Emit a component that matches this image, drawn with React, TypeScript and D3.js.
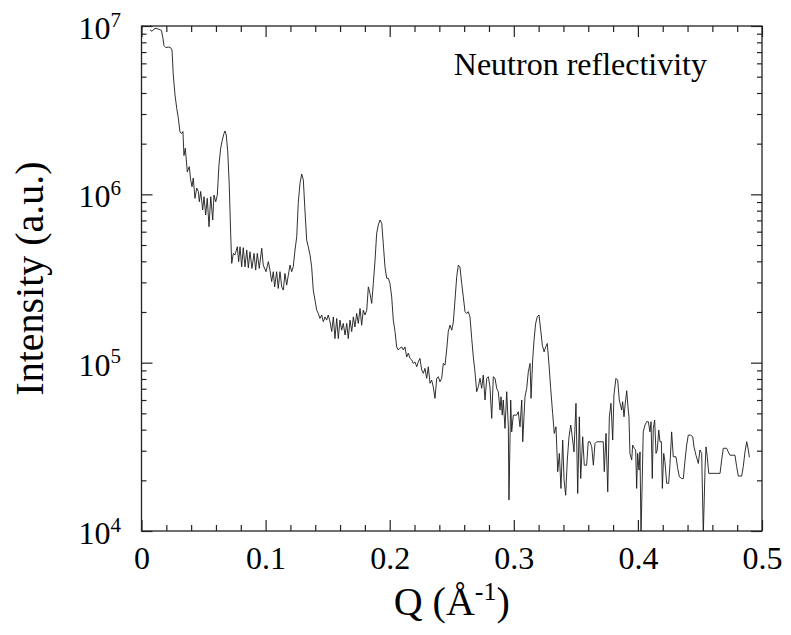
import React, { useRef, useEffect } from "react";
import * as d3 from "d3";

// [Q (1/Å), intensity (a.u.)]
const reflectivity: [number, number][] = [
  [0.0068, 9.5e6], [0.0085, 9.3e6], [0.0101, 9.6e6], [0.0117, 9.7e6], [0.0133, 9.6e6],
  [0.0149, 9.5e6], [0.0161, 9.4e6], [0.0173, 8.45e6], [0.0181, 7.64e6], [0.0197, 7.43e6],
  [0.0216, 7.5e6], [0.0235, 7.43e6], [0.0246, 7.2e6], [0.0256, 5.12e6], [0.027, 3.89e6],
  [0.0284, 3.24e6], [0.0297, 2.83e6], [0.031, 2.34e6], [0.0324, 2.3e6], [0.0334, 2.36e6],
  [0.0342, 1.7e6], [0.0353, 1.88e6], [0.0369, 1.36e6], [0.0385, 1.46e6], [0.0396, 1.22e6],
  [0.0407, 1.11e6], [0.0417, 1.25e6], [0.0431, 9.47e5], [0.0445, 1.09e6], [0.0458, 1.04e6],
  [0.0466, 9.04e5], [0.0477, 1.04e6], [0.0493, 8.07e5], [0.0504, 9.68e5], [0.0517, 7.54e5],
  [0.053, 9.47e5], [0.0544, 6.42e5], [0.0558, 9.68e5], [0.0574, 7.04e5], [0.0584, 9.9e5],
  [0.0598, 9.04e5], [0.0611, 9.9e5], [0.0624, 1.49e6], [0.0638, 1.88e6], [0.0651, 2.1e6],
  [0.0665, 2.3e6], [0.0673, 2.38e6], [0.0683, 2.25e6], [0.0695, 1.79e6], [0.0707, 1.14e6],
  [0.0719, 5.73e5], [0.0727, 3.89e5], [0.074, 4.46e5], [0.0753, 4.36e5], [0.0772, 4.88e5],
  [0.0783, 3.98e5], [0.0794, 4.88e5], [0.0807, 3.71e5], [0.082, 4.82e5], [0.0834, 3.71e5],
  [0.0848, 4.67e5], [0.0861, 3.66e5], [0.0874, 4.56e5], [0.089, 3.63e5], [0.0907, 4.46e5],
  [0.092, 3.55e5], [0.0933, 4.46e5], [0.0949, 3.63e5], [0.0969, 4.78e5], [0.0981, 3.8e5],
  [0.1003, 3.47e5], [0.1022, 3.98e5], [0.1035, 3.55e5], [0.1049, 3.03e5], [0.1062, 3.47e5],
  [0.1073, 2.82e5], [0.1089, 3.47e5], [0.1102, 2.76e5], [0.1116, 3.47e5], [0.113, 2.82e5],
  [0.1143, 2.7e5], [0.1156, 3.39e5], [0.117, 2.89e5], [0.1183, 3.31e5], [0.1197, 3.8e5],
  [0.121, 3.47e5], [0.1223, 3.71e5], [0.1237, 4.67e5], [0.1251, 5.6e5], [0.1263, 8.84e5],
  [0.1277, 1.16e6], [0.1291, 1.32e6], [0.1304, 1.22e6], [0.1317, 8.07e5], [0.1331, 5.35e5],
  [0.1344, 4.88e5], [0.1358, 4.36e5], [0.1371, 3.71e5], [0.1384, 2.7e5], [0.1398, 2.35e5],
  [0.1412, 2.05e5], [0.1425, 1.96e5], [0.1438, 1.83e5], [0.1452, 1.92e5], [0.1465, 1.75e5],
  [0.1479, 1.87e5], [0.1492, 1.79e5], [0.1505, 1.92e5], [0.1519, 1.75e5], [0.1533, 1.53e5],
  [0.1546, 1.87e5], [0.1559, 1.39e5], [0.1573, 1.83e5], [0.1586, 1.39e5], [0.1599, 1.79e5],
  [0.1613, 1.56e5], [0.1626, 1.71e5], [0.164, 1.46e5], [0.1654, 1.71e5], [0.1666, 1.39e5],
  [0.168, 1.79e5], [0.1694, 1.53e5], [0.1707, 1.87e5], [0.172, 1.63e5], [0.1734, 1.96e5],
  [0.1747, 1.71e5], [0.1761, 2.1e5], [0.1774, 1.67e5], [0.1787, 2.05e5], [0.1801, 1.92e5],
  [0.1815, 2.05e5], [0.1828, 2.82e5], [0.1841, 2.58e5], [0.1855, 2.25e5], [0.1868, 2.96e5],
  [0.1882, 4.07e5], [0.1895, 5.87e5], [0.1908, 6.57e5], [0.1922, 7.04e5], [0.1936, 6.72e5],
  [0.1948, 5.12e5], [0.1962, 3.71e5], [0.1976, 3.17e5], [0.1989, 3.17e5], [0.2002, 2.96e5],
  [0.2016, 2.46e5], [0.2029, 1.79e5], [0.2043, 1.53e5], [0.2056, 1.24e5], [0.2069, 1.19e5],
  [0.2083, 1.22e5], [0.2097, 1.24e5], [0.211, 1.19e5], [0.2123, 1.24e5], [0.2137, 1.08e5],
  [0.215, 1.14e5], [0.2164, 1.06e5], [0.2177, 1.04e5], [0.219, 9.9e4], [0.2204, 1.01e5],
  [0.2218, 9.45e4], [0.223, 1.01e5], [0.2244, 1.06e5], [0.2258, 9.04e4], [0.2271, 8.64e4],
  [0.2284, 9.25e4], [0.2298, 8.07e4], [0.2311, 9.45e4], [0.2325, 7.54e4], [0.2338, 7.88e4],
  [0.2351, 7.19e4], [0.2365, 6.14e4], [0.2379, 8.07e4], [0.2392, 8.25e4], [0.2405, 7.7e4],
  [0.2419, 8.07e4], [0.2432, 9.9e4], [0.2446, 9.67e4], [0.2459, 1.19e5], [0.2472, 1.53e5],
  [0.2486, 1.67e5], [0.25, 1.56e5], [0.2513, 1.75e5], [0.2526, 2.35e5], [0.254, 3.24e5],
  [0.2553, 3.8e5], [0.2566, 3.71e5], [0.258, 2.96e5], [0.2593, 2.46e5], [0.2607, 2.01e5],
  [0.262, 1.96e5], [0.2633, 2.01e5], [0.2647, 1.87e5], [0.2661, 1.39e5], [0.2674, 1.08e5],
  [0.2687, 8.83e4], [0.2701, 6.72e4], [0.2714, 7.19e4], [0.2728, 8.07e4], [0.2741, 7.04e4],
  [0.2754, 8.44e4], [0.2768, 6.0e4], [0.2782, 8.07e4], [0.2795, 8.25e4], [0.2808, 7.16e4],
  [0.2822, 4.67e4], [0.2835, 8.25e4], [0.2849, 8.07e4], [0.2862, 7.04e4], [0.2875, 6.72e4],
  [0.2889, 5.23e4], [0.2897, 6.27e4], [0.2907, 4.88e4], [0.2915, 6.0e4], [0.2929, 4.07e4],
  [0.2943, 6.72e4], [0.2956, 4.16e4], [0.2961, 1.53e4], [0.2975, 6.0e4], [0.2983, 3.88e4],
  [0.2996, 4.88e4], [0.3023, 4.88e4], [0.3036, 5.11e4], [0.305, 4.16e4], [0.3064, 6.0e4],
  [0.3072, 3.39e4], [0.309, 6.27e4], [0.3104, 7.04e4], [0.3117, 8.83e4], [0.3131, 9.9e4],
  [0.3139, 6.14e4], [0.3152, 1.04e5], [0.3163, 1.36e5], [0.3176, 1.71e5], [0.3189, 1.87e5],
  [0.3203, 1.92e5], [0.3217, 1.56e5], [0.323, 1.27e5], [0.3244, 1.16e5], [0.3257, 1.24e5],
  [0.327, 1.3e5], [0.3284, 9.67e4], [0.3297, 7.04e4], [0.3313, 5.0e4], [0.3326, 3.8e4],
  [0.334, 4.16e4], [0.3354, 2.25e4], [0.3367, 2.89e4], [0.338, 1.79e4], [0.3394, 3.47e4],
  [0.3405, 2.01e4], [0.3418, 1.63e4], [0.3431, 2.64e4], [0.3445, 3.63e4], [0.3459, 4.26e4],
  [0.3471, 3.63e4], [0.3485, 2.95e4], [0.3501, 5.73e4], [0.3515, 1.67e4], [0.3528, 4.77e4],
  [0.3539, 2.05e4], [0.3555, 3.63e4], [0.3568, 2.46e4], [0.3587, 2.46e4], [0.36, 3.39e4],
  [0.3614, 3.39e4], [0.3628, 3.16e4], [0.3641, 2.46e4], [0.3654, 3.31e4], [0.3668, 3.39e4],
  [0.3721, 3.39e4], [0.3729, 2.25e4], [0.3743, 3.8e4], [0.3757, 1.71e4], [0.377, 4.77e4],
  [0.3783, 5.73e4], [0.3797, 3.47e4], [0.3807, 6.42e4], [0.3823, 8.07e4], [0.3837, 7.88e4],
  [0.385, 6.0e4], [0.3869, 5.23e4], [0.3877, 5.86e4], [0.3888, 4.77e4], [0.3898, 5.73e4],
  [0.391, 6.81e4], [0.392, 5.47e4], [0.3928, 4.77e4], [0.3936, 2.89e4], [0.395, 2.64e4],
  [0.3958, 3.24e4], [0.3971, 3.1e4], [0.3982, 3.03e4], [0.399, 1.79e4], [0.3998, 2.89e4],
  [0.4009, 2.3e4], [0.4017, 2.95e4], [0.4025, 9.5e3], [0.4035, 2.01e4], [0.4043, 3.88e4],
  [0.4057, 4.26e4], [0.4071, 4.46e4], [0.4084, 4.46e4], [0.4097, 3.88e4], [0.4106, 4.46e4],
  [0.4116, 2.05e4], [0.4124, 4.07e4], [0.4135, 4.56e4], [0.4146, 2.89e4], [0.4156, 3.03e4],
  [0.4168, 3.98e4], [0.4178, 3.39e4], [0.4189, 3.39e4], [0.4197, 1.79e4], [0.4208, 2.89e4],
  [0.4218, 2.58e4], [0.4232, 1.92e4], [0.4248, 1.92e4], [0.4259, 2.52e4], [0.4272, 3.88e4],
  [0.4285, 2.76e4], [0.4307, 2.76e4], [0.4321, 2.35e4], [0.4334, 2.1e4], [0.4353, 2.05e4],
  [0.4366, 2.05e4], [0.438, 2.64e4], [0.4393, 3.24e4], [0.4406, 3.71e4], [0.4425, 3.71e4],
  [0.4442, 3.63e4], [0.4452, 3.16e4], [0.4468, 2.82e4], [0.4487, 2.52e4], [0.45, 3.03e4],
  [0.4514, 2.89e4], [0.4527, 9.5e3], [0.4541, 2.35e4], [0.4549, 3.16e4], [0.4559, 2.76e4],
  [0.4571, 2.2e4], [0.4662, 2.2e4], [0.4675, 2.64e4], [0.4688, 3.1e4], [0.4715, 3.1e4],
  [0.4728, 2.95e4], [0.4742, 2.82e4], [0.4782, 2.82e4], [0.4796, 2.41e4], [0.4809, 2.12e4],
  [0.4836, 2.12e4], [0.4849, 2.41e4], [0.4863, 2.95e4], [0.4877, 3.39e4], [0.489, 3.03e4],
  [0.4898, 2.74e4],
];

const qTicks = [0, 0.1, 0.2, 0.3, 0.4, 0.5];
const qMinorTicks = [0.02, 0.04, 0.06, 0.08, 0.12, 0.14, 0.16, 0.18, 0.22, 0.24, 0.26, 0.28,
  0.32, 0.34, 0.36, 0.38, 0.42, 0.44, 0.46, 0.48];
const decades = [1e4, 1e5, 1e6, 1e7];
const decadeExponents = ["4", "5", "6", "7"];
const legendText = "Neutron reflectivity";

const width = 791;
const height = 635;
const plot = { left: 141.5, right: 762, top: 26, bottom: 531 };
const font = "'Liberation Serif', 'Times New Roman', serif";

const ReflectivityChart = () => {
  const container = useRef<SVGSVGElement>(null);

  useEffect(() => {
    const svg = d3.select(container.current);
    svg.selectAll("*").remove();

    const x = d3.scaleLinear().domain([0, 0.5]).range([plot.left, plot.right]);
    const y = d3.scaleLog().domain([1e4, 1e7]).range([plot.bottom, plot.top]);

    svg
      .append("clipPath")
      .attr("id", "plot-area")
      .append("rect")
      .attr("x", plot.left)
      .attr("y", plot.top)
      .attr("width", plot.right - plot.left)
      .attr("height", plot.bottom - plot.top);

    // the data
    const line = d3
      .line<[number, number]>()
      .x((d) => x(d[0]))
      .y((d) => y(d[1]));

    svg
      .append("path")
      .datum(reflectivity)
      .attr("clip-path", "url(#plot-area)")
      .attr("fill", "none")
      .attr("stroke", "#1a1a1a")
      .attr("stroke-width", 0.9)
      .attr("stroke-linejoin", "round")
      .attr("d", line);

    // inward ticks on all four sides
    const yMinor = decades
      .slice(0, -1)
      .flatMap((d) => d3.range(2, 10).map((m) => m * d));

    const addAxis = (axis: any, transform: string) => {
      const g = svg.append("g").attr("transform", transform).call(axis);
      g.select(".domain").remove();
      g.selectAll("line").attr("stroke", "#222").attr("stroke-width", 1.2);
      return g;
    };

    const gx = addAxis(
      d3
        .axisBottom(x)
        .tickValues(qTicks)
        .tickSize(-11)
        .tickPadding(15)
        .tickFormat((d: any) => (d === 0 ? "0" : d3.format(".1f")(d))),
      `translate(0,${plot.bottom})`
    );
    gx.selectAll("text")
      .attr("font-family", font)
      .attr("font-size", 32)
      .attr("fill", "#000");

    addAxis(d3.axisBottom(x).tickValues(qMinorTicks).tickSize(-6).tickFormat(() => ""), `translate(0,${plot.bottom})`);
    addAxis(d3.axisTop(x).tickValues(qTicks).tickSize(-11).tickFormat(() => ""), `translate(0,${plot.top})`);
    addAxis(d3.axisTop(x).tickValues(qMinorTicks).tickSize(-6).tickFormat(() => ""), `translate(0,${plot.top})`);
    addAxis(d3.axisLeft(y).tickValues(decades).tickSize(-11).tickFormat(() => ""), `translate(${plot.left},0)`);
    addAxis(d3.axisLeft(y).tickValues(yMinor).tickSize(-5).tickFormat(() => ""), `translate(${plot.left},0)`);
    addAxis(d3.axisRight(y).tickValues(decades).tickSize(-11).tickFormat(() => ""), `translate(${plot.right},0)`);
    addAxis(d3.axisRight(y).tickValues(yMinor).tickSize(-5).tickFormat(() => ""), `translate(${plot.right},0)`);

    // frame
    svg
      .append("rect")
      .attr("x", plot.left)
      .attr("y", plot.top)
      .attr("width", plot.right - plot.left)
      .attr("height", plot.bottom - plot.top)
      .attr("fill", "none")
      .attr("stroke", "#222")
      .attr("stroke-width", 1.3);

    // y tick labels 10^n
    const yLabels = svg
      .append("g")
      .attr("font-family", font)
      .attr("fill", "#000")
      .selectAll("text")
      .data(decades)
      .enter()
      .append("text")
      .attr("x", 121)
      .attr("y", (d) => y(d) + 13)
      .attr("text-anchor", "end")
      .attr("font-size", 32);
    yLabels.append("tspan").text("10");
    yLabels
      .append("tspan")
      .attr("font-size", 21)
      .attr("dy", -12.5)
      .text((d, i) => decadeExponents[i]);

    // axis titles
    const xTitle = svg
      .append("text")
      .attr("x", (plot.left + plot.right) / 2)
      .attr("y", 615)
      .attr("text-anchor", "middle")
      .attr("font-family", font)
      .attr("font-size", 40);
    xTitle.append("tspan").text("Q (Å");
    xTitle.append("tspan").attr("font-size", 26).attr("dy", -15).text("-1");
    xTitle.append("tspan").attr("dy", 15).text(")");

    svg
      .append("text")
      .attr("transform", `translate(43,${(plot.top + plot.bottom) / 2}) rotate(-90)`)
      .attr("text-anchor", "middle")
      .attr("font-family", font)
      .attr("font-size", 40)
      .text("Intensity (a.u.)");

    svg
      .append("text")
      .attr("x", 707)
      .attr("y", 75)
      .attr("text-anchor", "end")
      .attr("font-family", font)
      .attr("font-size", 32)
      .text(legendText);
  }, []);

  return (
    <svg
      ref={container}
      width={width}
      height={height}
      style={{ position: "absolute", left: 0, top: 0, background: "#fff" }}
    />
  );
};

export default function App() {
  return <ReflectivityChart />;
}
